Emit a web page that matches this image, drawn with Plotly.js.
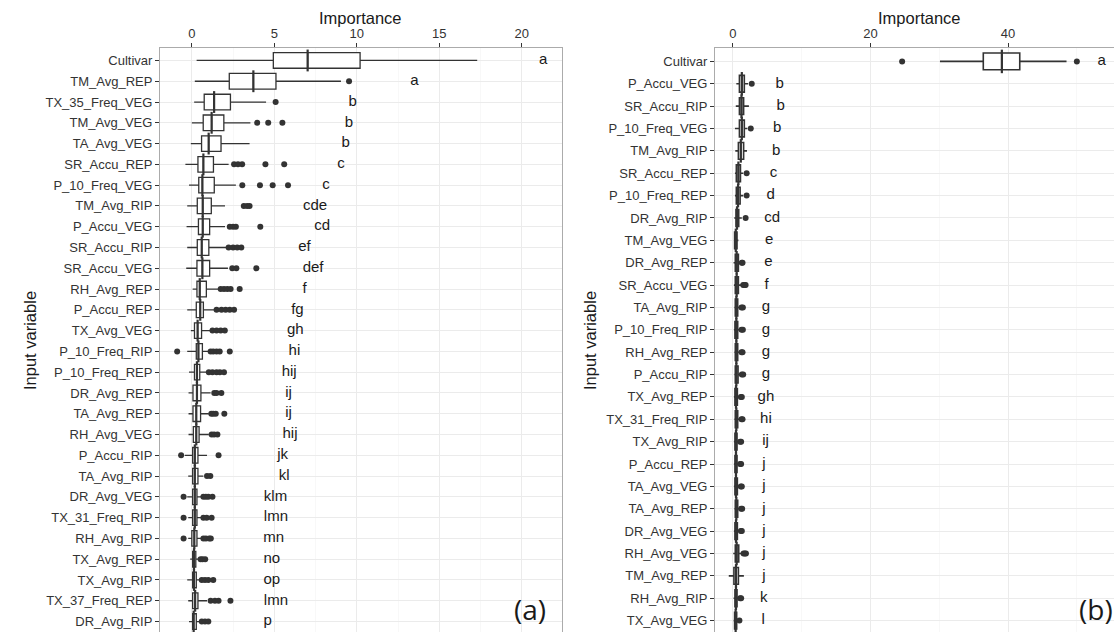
<!DOCTYPE html>
<html>
<head>
<meta charset="utf-8">
<script src="https://cdn.plot.ly/plotly-3.0.1.min.js"></script>
<style>
html,body{margin:0;padding:0;overflow:hidden;background:#fff;}
#chart{width:1130px;height:640px;}
</style>
</head>
<body>
<div id="chart"></div>
<script>
// ---------- Panel (a) ----------
const catsA = ['Cultivar','TM_Avg_REP','TX_35_Freq_VEG','TM_Avg_VEG','TA_Avg_VEG','SR_Accu_REP','P_10_Freq_VEG','TM_Avg_RIP','P_Accu_VEG','SR_Accu_RIP','SR_Accu_VEG','RH_Avg_REP','P_Accu_REP','TX_Avg_VEG','P_10_Freq_RIP','P_10_Freq_REP','DR_Avg_REP','TA_Avg_REP','RH_Avg_VEG','P_Accu_RIP','TA_Avg_RIP','DR_Avg_VEG','TX_31_Freq_RIP','RH_Avg_RIP','TX_Avg_REP','TX_Avg_RIP','TX_37_Freq_REP','DR_Avg_RIP'];
const loA  = [0.29,0.18,0.14,0.00,-0.06,-0.39,-0.17,-0.28,-0.32,-0.28,-0.34,0.05,-0.28,-0.06,-0.28,-0.17,-0.20,-0.20,-0.20,-0.43,-0.22,-0.28,-0.22,-0.22,-0.10,-0.28,-0.22,-0.17];
const q1A  = [4.94,2.27,0.75,0.69,0.59,0.37,0.42,0.33,0.40,0.33,0.31,0.31,0.27,0.16,0.27,0.16,0.07,0.07,0.09,0.05,0.05,0.05,0.05,0.00,0.05,0.05,0.05,0.05];
const medA = [7.02,3.73,1.35,1.20,1.02,0.70,0.64,0.66,0.66,0.60,0.64,0.48,0.51,0.35,0.40,0.31,0.31,0.27,0.27,0.18,0.18,0.18,0.18,0.15,0.13,0.13,0.20,0.11];
const q3A  = [10.2,5.10,2.34,1.94,1.77,1.31,1.36,1.18,1.08,1.03,1.08,0.88,0.70,0.59,0.64,0.48,0.55,0.53,0.44,0.37,0.37,0.31,0.31,0.31,0.24,0.27,0.37,0.27];
const hiA  = [17.3,9.04,4.50,3.55,3.50,2.23,2.67,2.01,2.01,2.12,2.19,1.62,1.36,1.14,1.03,0.92,1.14,1.03,1.03,0.92,0.70,0.59,0.59,0.59,0.44,0.53,0.92,0.48];
const outA = [[],[9.53],[5.08],[3.96,4.63,5.49],[],[2.56,2.8,3.05,4.46,5.6],[3.06,4.13,4.9,5.83],[3.15,3.35,3.5],[2.3,2.5,2.67,4.15],[2.23,2.5,2.75,3.0],[2.45,2.7,3.91],[1.75,1.95,2.15,2.35,2.9],[1.5,1.8,2.05,2.3,2.56],[1.25,1.5,1.75,2.0],[-0.89,1.14,1.3,1.5,1.69,2.3],[1.03,1.25,1.5,1.7,1.95],[1.36,1.5,1.79],[1.18,1.3,1.45,1.97],[1.2,1.35,1.55],[-0.65,1.62],[0.92,1.12],[-0.5,0.7,0.85,1.0,1.25],[-0.5,0.7,0.9,1.2],[-0.5,0.7,0.85,1.05,1.15],[0.53,0.65,0.81],[0.6,0.8,1.0,1.3],[1.14,1.4,1.62,2.34],[0.6,0.8,1.0]];
const letA = ['a','a','b','b','b','c','c','cde','cd','ef','def','f','fg','gh','hi','hij','ij','ij','hij','jk','kl','klm','lmn','mn','no','op','lmn','p'];
const letXA = [21.3,13.5,9.75,9.53,9.32,9.04,8.13,7.47,7.9,6.83,7.35,6.83,6.4,6.27,6.22,5.9,5.86,5.86,5.95,5.5,5.6,5.07,5.1,4.96,4.85,4.85,5.1,4.6];

// ---------- Panel (b) ----------
const catsB = ['Cultivar','P_Accu_VEG','SR_Accu_RIP','P_10_Freq_VEG','TM_Avg_RIP','SR_Accu_REP','P_10_Freq_REP','DR_Avg_RIP','TM_Avg_VEG','DR_Avg_REP','SR_Accu_VEG','TA_Avg_RIP','P_10_Freq_RIP','RH_Avg_REP','P_Accu_RIP','TX_Avg_REP','TX_31_Freq_RIP','TX_Avg_RIP','P_Accu_REP','TA_Avg_VEG','TA_Avg_REP','DR_Avg_VEG','RH_Avg_VEG','TM_Avg_REP','RH_Avg_RIP','TX_Avg_VEG'];
const loB  = [30.1,0.50,0.42,0.30,0.35,0.30,0.30,0.20,0.15,0.10,0.15,0.20,0.15,0.20,0.20,0.15,0.20,0.15,0.15,0.15,0.20,0.15,0.05,-0.60,0.10,0.10];
const q1B  = [36.4,0.95,0.95,0.95,0.80,0.50,0.50,0.45,0.25,0.35,0.35,0.35,0.30,0.35,0.35,0.30,0.35,0.30,0.30,0.30,0.35,0.30,0.35,0.15,0.30,0.25];
const medB = [39.1,1.30,1.25,1.30,1.15,0.80,0.75,0.60,0.42,0.55,0.55,0.50,0.50,0.50,0.50,0.45,0.50,0.45,0.45,0.45,0.50,0.45,0.55,0.45,0.45,0.40];
const q3B  = [41.7,1.66,1.56,1.66,1.56,1.10,1.05,0.85,0.60,0.80,0.80,0.70,0.70,0.70,0.75,0.65,0.70,0.60,0.60,0.65,0.70,0.65,0.85,0.80,0.60,0.55];
const hiB  = [48.5,2.20,2.33,2.10,2.05,1.50,1.50,1.30,0.80,1.20,1.30,1.10,1.10,1.10,1.15,1.00,1.10,0.90,0.90,1.00,1.05,1.00,1.40,1.60,0.90,0.80];
const outB = [[24.6,50.0],[2.74],[],[2.6],[],[2.0],[2.0],[1.85],[],[1.3,1.4],[1.5,1.7,1.85],[1.25,1.45],[1.25,1.45],[1.25,1.4],[1.3,1.5],[1.15,1.3],[1.25,1.4],[1.05,1.2],[1.05,1.2],[1.15,1.3],[1.2,1.35],[1.15,1.3],[1.55,1.75,1.9],[],[1.05,1.2],[0.95]];
const letB = ['a','b','b','b','b','c','d','cd','e','e','f','g','g','g','g','gh','hi','ij','j','j','j','j','j','j','k','l'];
const letXB = [53.6,6.8,6.96,6.45,6.3,5.9,5.5,5.7,5.27,5.17,4.9,4.8,4.8,4.8,4.8,4.8,4.8,4.75,4.5,4.5,4.5,4.5,4.5,4.5,4.5,4.4];

// ---------- geometry ----------
const W = 1130, H = 640, T = 48, B = 6;
const plotH = H - T - B;
const px = v => v / W;
const py = y => (H - B - y) / plotH;
const FONT = 'Liberation Sans, Arial, sans-serif';
const INK = '#333333';

function panelTraces(cats, lo, q1, med, q3, hi, outs, lets, letX, xa, ya, medSize, boxLine) {
  const ox = [], oy = [];
  outs.forEach((arr, i) => arr.forEach(v => { ox.push(v); oy.push(cats[i]); }));
  return [
    {type:'box', orientation:'h', y:cats, q1:q1, median:med, q3:q3,
     lowerfence:lo, upperfence:hi, boxpoints:false, width:0.75, whiskerwidth:0,
     fillcolor:'#ffffff', line:{color:INK, width:boxLine}, xaxis:xa, yaxis:ya,
     hoverinfo:'skip', showlegend:false},
    {type:'scatter', mode:'markers', x:med, y:cats, xaxis:xa, yaxis:ya,
     marker:{symbol:'line-ns', size:medSize, line:{color:INK, width:2.2}},
     hoverinfo:'skip', showlegend:false, cliponaxis:false},
    {type:'scatter', mode:'markers', x:ox, y:oy, xaxis:xa, yaxis:ya,
     marker:{symbol:'circle', size:6, color:INK},
     hoverinfo:'skip', showlegend:false},
    {type:'scatter', mode:'text', x:letX, y:cats, text:lets, xaxis:xa, yaxis:ya,
     textposition:'middle center', textfont:{family:FONT, size:15, color:'#1a1a1a'},
     hoverinfo:'skip', showlegend:false, cliponaxis:false}
  ];
}

const data = [
  ...panelTraces(catsA, loA, q1A, medA, q3A, hiA, outA, letA, letXA, 'x', 'y', 15.6, 1.3),
  ...panelTraces(catsB, loB, q1B, medB, q3B, hiB, outB, letB, letXB, 'x2', 'y2', 16.8, 1.6)
];

function xAxis(domain, range, dtick, minorDtick, anchor) {
  return {
    domain: domain, range: range, side:'top', anchor: anchor,
    tick0:0, dtick:dtick, ticks:'outside', ticklen:4, tickwidth:1, tickcolor:INK,
    tickfont:{family:FONT, size:13, color:INK},
    showgrid:true, gridcolor:'#ebebeb', gridwidth:1,
    minor:{dtick:minorDtick, tick0:0, showgrid:true, gridcolor:'#f4f4f4', gridwidth:0.6, ticks:''},
    showline:true, mirror:true, linecolor:'#ababab', linewidth:1,
    zeroline:false, fixedrange:true
  };
}
function yAxis(cats, anchor) {
  return {
    domain:[0,1], type:'category', categoryarray:cats, categoryorder:'array',
    range:[cats.length - 1 + 0.6, -0.6], anchor: anchor,
    ticks:'outside', ticklen:4, tickwidth:1, tickcolor:INK,
    tickfont:{family:FONT, size:13, color:INK},
    showgrid:true, gridcolor:'#ebebeb', gridwidth:1,
    showline:true, mirror:true, linecolor:'#ababab', linewidth:1,
    zeroline:false, fixedrange:true
  };
}

const titleFont = {family:FONT, size:16.5, color:'#1a1a1a'};
const layout = {
  width: W, height: H,
  margin:{l:0, r:0, t:T, b:B, pad:0},
  paper_bgcolor:'#ffffff', plot_bgcolor:'#ffffff',
  showlegend:false,
  xaxis: xAxis([px(160), px(562)], [-1.93, 22.44], 5, 2.5, 'y'),
  yaxis: yAxis(catsA, 'x'),
  xaxis2: xAxis([px(715), px(1125)], [-2.6, 57], 20, 10, 'y2'),
  yaxis2: yAxis(catsB, 'x2'),
  annotations: [
    {text:'Importance', xref:'paper', yref:'paper', x:px(361), y:py(18), showarrow:false, font:titleFont, xanchor:'center', yanchor:'middle'},
    {text:'Importance', xref:'paper', yref:'paper', x:px(919), y:py(18), showarrow:false, font:titleFont, xanchor:'center', yanchor:'middle'},
    {text:'Input variable', xref:'paper', yref:'paper', x:px(30), y:py(341), showarrow:false, font:titleFont, textangle:-90, xanchor:'center', yanchor:'middle'},
    {text:'Input variable', xref:'paper', yref:'paper', x:px(590), y:py(341), showarrow:false, font:titleFont, textangle:-90, xanchor:'center', yanchor:'middle'},
    {text:'(a)', xref:'paper', yref:'paper', x:px(530), y:py(609), showarrow:false, font:{family:'Open Sans, Noto Sans, sans-serif', size:28, color:'#1a1a1a'}, xanchor:'center', yanchor:'middle'},
    {text:'(b)', xref:'paper', yref:'paper', x:px(1096), y:py(609), showarrow:false, font:{family:'Open Sans, Noto Sans, sans-serif', size:28, color:'#1a1a1a'}, xanchor:'center', yanchor:'middle'}
  ]
};

Plotly.newPlot('chart', data, layout, {displayModeBar:false, staticPlot:true});
</script>
</body>
</html>
